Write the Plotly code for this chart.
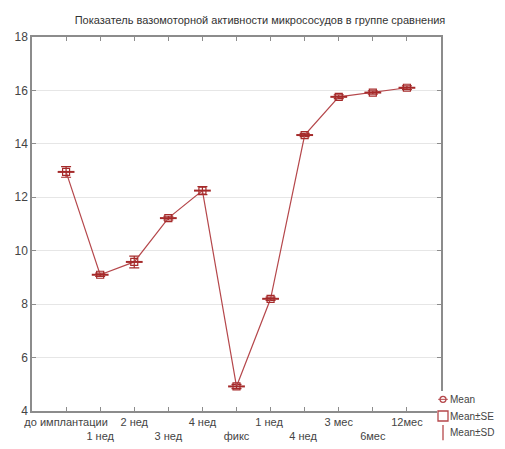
import plotly.graph_objects as go

categories = ["до имплантации", "1 нед", "2 нед", "3 нед", "4 нед", "фикс",
              "1 нед ", "4 нед ", "3 мес", "6мес", "12мес"]
means = [12.95, 9.1, 9.58, 11.22, 12.25, 4.92, 8.2, 14.33, 15.76, 15.92, 16.1]
se = [0.08, 0.04, 0.1, 0.04, 0.06, 0.05, 0.04, 0.04, 0.05, 0.04, 0.05]
sd = [0.2, 0.06, 0.22, 0.07, 0.15, 0.08, 0.06, 0.06, 0.07, 0.06, 0.07]
y_ticks = [4, 6, 8, 10, 12, 14, 16, 18]
legend_names = ["Mean", "Mean±SE", "Mean±SD"]

xs = list(range(len(categories)))
ticktext = [c if i % 2 == 0 else " <br>" + c for i, c in enumerate(categories)]

red = "#b5474b"
dark = "#a52a2a"

OFF = 8  # page body margin
W, H = 505 - OFF, 449 - OFF
L, R, T, B = 32 - OFF, 0, 37 - OFF, 0
PW, PH = W - L - R, H - T - B


def xd(px):
    return (px - OFF - L) / PW


def yd(py):
    return (H - B - (py - OFF)) / PH


fig = go.Figure()
fig.add_trace(go.Scatter(
    x=xs, y=means, mode="lines",
    line=dict(color=red, width=1.2),
    error_y=dict(type="data", array=sd, color=dark, thickness=1.2, width=5),
    showlegend=False, hoverinfo="skip"))
fig.add_trace(go.Scatter(
    x=xs, y=means, mode="markers",
    marker=dict(symbol="square-open", size=7, color=dark, line=dict(width=1.2)),
    showlegend=False, hoverinfo="skip"))
fig.add_trace(go.Scatter(
    x=xs, y=means, mode="markers",
    marker=dict(symbol="line-ew-open", size=12, color=dark, line=dict(width=2, color=dark)),
    showlegend=False))

# custom legend in right area (separate hidden axes)
leg_y = [2, 1, 0]
leg_sym = ["circle-open", "square-open", "line-ns-open"]
leg_size = [6, 10, 11]
for yy, sym, sz in zip(leg_y, leg_sym, leg_size):
    fig.add_trace(go.Scatter(x=[0], y=[yy], mode="markers", xaxis="x2", yaxis="y2",
                             marker=dict(symbol=sym, size=sz, color=red, line=dict(width=1.3, color=red)),
                             showlegend=False, hoverinfo="skip"))
fig.add_trace(go.Scatter(x=[-0.8, 0.8], y=[2, 2], mode="lines", xaxis="x2", yaxis="y2",
                         line=dict(color=red, width=1), showlegend=False, hoverinfo="skip"))
for yy, name in zip(leg_y, legend_names):
    fig.add_annotation(x=0.8, y=yy, xref="x2", yref="y2", text=name, showarrow=False,
                       xanchor="left", yanchor="middle", font=dict(size=10, color="#444444"))

fig.update_layout(
    width=W, height=H,
    margin=dict(l=L, r=R, t=T, b=B, autoexpand=False),
    paper_bgcolor="white", plot_bgcolor="white",
    font=dict(family="Liberation Sans, Arial, sans-serif", color="#333333", size=11),
    title=dict(text="Показатель вазомоторной активности микрососудов в группе сравнения",
               x=(260 - OFF) / W, xref="container", xanchor="center", y=1 - (20 - OFF) / H,
               yanchor="middle", font=dict(size=11, color="#333333")),
    showlegend=False,
    xaxis=dict(domain=[0, xd(441)], range=[-1, 11], tickvals=xs, ticktext=ticktext, showgrid=False,
               zeroline=False, showline=True, linecolor="#8c8c8c", linewidth=1.5,
               mirror="ticks", ticks="inside", ticklen=4, tickcolor="#8c8c8c",
               tickfont=dict(size=11, color="#444444"), tickangle=0),
    yaxis=dict(domain=[yd(411), 1], range=[4, 18], tickvals=y_ticks, showgrid=True, gridcolor="#e6e6e6",
               zeroline=False, showline=True, linecolor="#8c8c8c", linewidth=1.5,
               mirror="ticks", ticks="inside", ticklen=4, tickcolor="#8c8c8c",
               tickfont=dict(size=12, color="#444444")),
    xaxis2=dict(domain=[xd(437), xd(449)], range=[-1, 1], visible=False,
                anchor="y2", fixedrange=True),
    yaxis2=dict(domain=[yd(441), yd(391)], range=[-0.5, 2.5],
                visible=False, anchor="x2", fixedrange=True),
)

fig.write_html("out.html")
